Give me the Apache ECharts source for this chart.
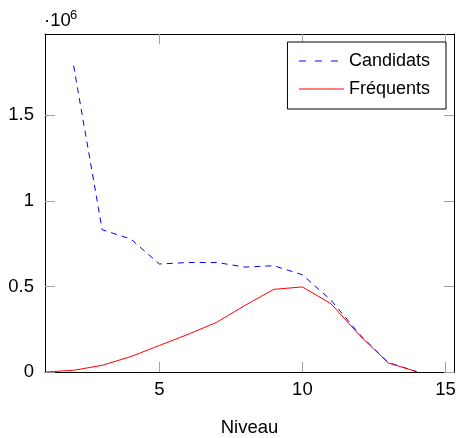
<!DOCTYPE html>
<html>
<head>
<meta charset="utf-8">
<script src="https://cdn.jsdelivr.net/npm/echarts@6/dist/echarts.min.js"></script>
<style>
  html, body { margin: 0; padding: 0; background: #fff; }
  #chart { width: 458px; height: 438px; }
</style>
</head>
<body>
<div id="chart"></div>
<script>
// niveaux et valeurs
const niveaux = [1, 2, 3, 4, 5, 6, 7, 8, 9, 10, 11, 12, 13, 14];
const candidats = [null, 1790000, 831000, 777000, 631000, 640000, 640000, 613000, 621000, 568000, 420000, 220000, 55000, 2000];
const frequents = [0, 10000, 39000, 90000, 155000, 220000, 290000, 390000, 483000, 497000, 399000, 214000, 53000, 2000];
const xTicks = [5, 10, 15];
const yTicks = [0, 500000, 1000000, 1500000];

const FONT = 'Liberation Sans';
const FS = 18.5;
const tickStyle = { show: true, inside: true, length: 10, lineStyle: { color: '#a0a0a0', width: 1 } };
const frame = { show: true, onZero: false, lineStyle: { color: '#000', width: 1 } };

function pairs(ys) {
  return niveaux.map((x, i) => [x, ys[i]]);
}

const chart = echarts.init(document.getElementById('chart'), null, { renderer: 'canvas' });
chart.setOption({
  animation: false,
  grid: { left: 45, right: 4, top: 34, bottom: 66, outerBoundsMode: 'none', containLabel: false },
  xAxis: [{
    type: 'value', min: 1, max: 15.3, position: 'bottom',
    name: 'Niveau', nameLocation: 'middle', nameGap: 46,
    nameTextStyle: { fontFamily: FONT, fontSize: FS, color: '#000' },
    axisLine: frame,
    axisTick: Object.assign({ customValues: xTicks }, tickStyle),
    axisLabel: { customValues: xTicks, margin: 8, fontFamily: FONT, fontSize: FS, color: '#000' },
    splitLine: { show: false }
  }, {
    type: 'value', min: 1, max: 15.3, position: 'top',
    axisLine: frame,
    axisTick: Object.assign({ customValues: xTicks }, tickStyle),
    axisLabel: { show: false },
    splitLine: { show: false }
  }],
  yAxis: [{
    type: 'value', min: 0, max: 1975000, position: 'left',
    axisLine: frame,
    axisTick: Object.assign({ customValues: yTicks }, tickStyle),
    axisLabel: {
      customValues: yTicks, margin: 11, fontFamily: FONT, fontSize: FS, color: '#000',
      formatter: v => String(v / 1e6)
    },
    splitLine: { show: false }
  }, {
    type: 'value', min: 0, max: 1975000, position: 'right',
    axisLine: frame,
    axisTick: Object.assign({ customValues: yTicks }, tickStyle),
    axisLabel: { show: false },
    splitLine: { show: false }
  }],
  legend: {
    orient: 'vertical',
    right: 12, top: 42,
    padding: [10, 16, 11, 11],
    itemWidth: 45, itemHeight: 20, itemGap: 10,
    borderColor: '#000', borderWidth: 1,
    backgroundColor: '#fff',
    itemStyle: { opacity: 0 },
    lineStyle: { width: 1 },
    textStyle: { fontFamily: FONT, fontSize: 18, color: '#000' },
    data: [
      { name: 'Candidats', lineStyle: { type: [7, 9] } },
      { name: 'Fréquents' }
    ]
  },
  graphic: [
    { type: 'text', left: 44, top: 11, style: { text: '·10', fontFamily: FONT, fontSize: FS, fill: '#000' } },
    { type: 'text', left: 70, top: 9, style: { text: '6', fontFamily: FONT, fontSize: 13, fill: '#000' } }
  ],
  series: [{
    name: 'Candidats', type: 'line', symbol: 'none',
    data: pairs(candidats),
    lineStyle: { color: '#0000ff', width: 1, type: [6, 5] },
    itemStyle: { color: '#0000ff' }
  }, {
    name: 'Fréquents', type: 'line', symbol: 'none',
    data: pairs(frequents),
    lineStyle: { color: '#ff0000', width: 1 },
    itemStyle: { color: '#ff0000' }
  }]
});
</script>
</body>
</html>
